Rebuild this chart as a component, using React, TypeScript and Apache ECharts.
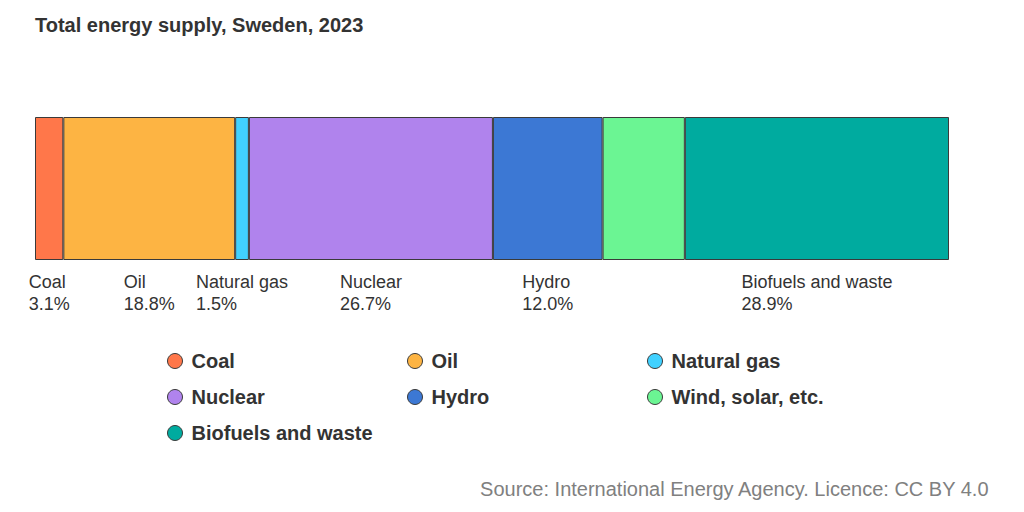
import React, { useEffect, useRef } from "react";
import * as echarts from "echarts";

const categories = ["Total"];
const sourceNames = [
  "Coal",
  "Oil",
  "Natural gas",
  "Nuclear",
  "Hydro",
  "Wind, solar, etc.",
  "Biofuels and waste",
];
const shares = [3.1, 18.8, 1.5, 26.7, 12.0, 9.0, 28.9];
const showLabel = [true, true, true, true, true, false, true];
const colors = ["#FF774A", "#FDB443", "#41D1FF", "#B083ED", "#3C78D4", "#6BF593", "#00AB9F"];
const legendColumns = [
  ["Coal", "Nuclear", "Biofuels and waste"],
  ["Oil", "Hydro"],
  ["Natural gas", "Wind, solar, etc."],
];
const legendLefts = [162, 402, 642];

const FONT = "Liberation Sans, Arial, sans-serif";

export default function App() {
  const ref = useRef<HTMLDivElement>(null);
  useEffect(() => {
    document.body.style.margin = "0";
    if (!ref.current) return;
    const chart = echarts.init(ref.current, undefined, { renderer: "svg" });
    const series = sourceNames.map((name, i) => ({
      name,
      type: "bar",
      stack: "total",
      barWidth: "100%",
      data: [shares[i]],
      itemStyle: { color: colors[i], borderColor: "#3a3a3a", borderWidth: 1 },
      label: {
        show: showLabel[i],
        position: "bottom",
        distance: 11,
        formatter: () => `{a|${name}}\n{a|${shares[i].toFixed(1)}%}`,
        rich: {
          a: { align: "left", fontSize: 18, lineHeight: 22, color: "#333", fontFamily: FONT },
        },
      },
      emphasis: { disabled: true },
    }));
    chart.setOption({
      animation: false,
      textStyle: { fontFamily: FONT },
      title: [
        {
          text: "Total energy supply, Sweden, 2023",
          left: 30,
          top: 10,
          textStyle: { fontSize: 20, fontWeight: "bold", color: "#333", fontFamily: FONT },
        },
        {
          text: "Source: International Energy Agency. Licence: CC BY 4.0",
          right: 29,
          top: 474,
          textStyle: { fontSize: 20, fontWeight: "normal", color: "#808080", fontFamily: FONT },
        },
      ],
      legend: legendColumns.map((col, ci) => ({
        data: col,
        orient: "vertical",
        left: legendLefts[ci],
        top: 345,
        itemWidth: 15,
        itemHeight: 15,
        itemGap: 14,
        icon: "circle",
        selectedMode: false,
        itemStyle: { borderColor: "#3a3a3a", borderWidth: 1 },
        textStyle: {
          fontSize: 20,
          fontWeight: "bold",
          color: "#333",
          lineHeight: 22,
          padding: [0, 0, 0, 4],
          fontFamily: FONT,
        },
      })),
      grid: { left: 35, right: 75, top: 117, height: 143 },
      xAxis: { type: "value", min: 0, max: 100, show: false },
      yAxis: { type: "category", data: categories, show: false },
      series,
    });
    return () => chart.dispose();
  }, []);
  return <div ref={ref} style={{ width: 1024, height: 512 }} />;
}
